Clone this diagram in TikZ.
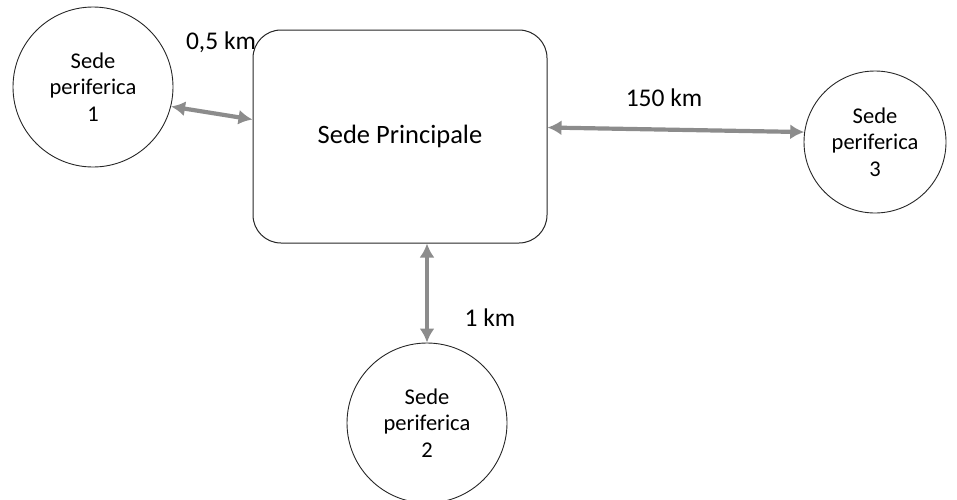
\documentclass[tikz,border=0pt]{standalone}
\usepackage{fontspec}
\setmainfont{Carlito}
\usepackage{tikz}
\usetikzlibrary{arrows.meta}
\usetikzlibrary{positioning,calc}
\colorlet{linkgray}{black!45}

\begin{document}
\begin{tikzpicture}[
x=1pt,y=-1pt,
Sede/.style={draw=black!85,circle,line width=0.9pt,minimum size=160pt,inner sep=0pt,
  align=center,font=\fontsize{22.5}{26.5}\selectfont},
Principale/.style={draw=black!85,rounded corners=28pt,line width=1pt,
  minimum width=294pt,minimum height=213pt,font=\fontsize{26.5}{30}\selectfont},
Link/.style={draw=linkgray,line width=4.2pt,
  {Latex[length=14pt,width=15pt]}-{Latex[length=14pt,width=15pt]}},
Dist/.style={font=\fontsize{25.5}{30}\selectfont,inner sep=0pt}
]
\useasboundingbox (0,0) rectangle (957,499);

% main site
\node[Principale] (main) at (400,136.5) {Sede Principale};

% peripheral sites
\node[Sede] (s1) at (93,87) {Sede\\periferica\\1};
\node[Sede,minimum size=142pt] (s3) at (875,142) {Sede\\periferica\\3};
\node[Sede] (s2) at (427,423) {Sede\\periferica\\2};

% links
\draw[Link] (s1.-14) -- ([yshift=17pt]main.west);
\draw[Link] ([yshift=9pt]main.east) -- (s3.172);
\draw[Link] (s2.north |- main.south) -- (s2.north);

% distances
\node[Dist] (d1) at (221,42) {0,5 km};
\node[Dist] (d3) at (664,98) {150 km};
\node[Dist] (d2) at (490,318) {1 km};

\end{tikzpicture}
\end{document}
